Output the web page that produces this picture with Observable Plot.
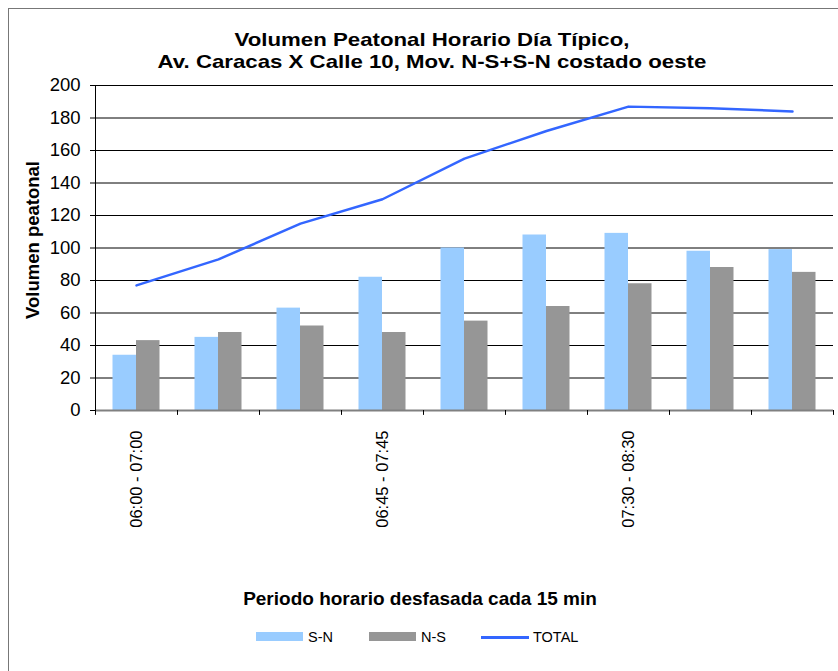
<!DOCTYPE html>
<html><head><meta charset="utf-8">
<script src="https://cdn.jsdelivr.net/npm/d3@7"></script>
<script src="https://cdn.jsdelivr.net/npm/@observablehq/plot@0.6"></script>
<style>
body{margin:0;background:#fff;font-family:"Liberation Sans",Arial,sans-serif;color:#000;}
#wrap{position:relative;width:838px;height:671px;overflow:hidden;background:#fff;}
#frame{position:absolute;left:8px;top:8px;width:900px;height:700px;border-left:1px solid #777;border-top:1px solid #777;}
.title{position:absolute;left:0;width:864px;text-align:center;font-weight:bold;font-size:19px;line-height:22px;white-space:nowrap;transform:scaleX(1.17);transform-origin:432px 50%;}
#chart{position:absolute;left:0;top:70px;}
#ytitle{position:absolute;left:33px;top:240px;transform:translate(-50%,-50%) rotate(-90deg);font-weight:bold;font-size:18.5px;white-space:nowrap;}
#xtitle{position:absolute;left:0;width:840px;top:588px;text-align:center;font-weight:bold;font-size:19px;white-space:nowrap;}
#legend{position:absolute;left:0;top:627px;width:838px;height:20px;}
.li{position:absolute;top:0;height:20px;font-size:14.5px;line-height:20px;}
.sw{position:absolute;top:5px;height:9px;width:47px;}
.ln{position:absolute;top:9px;height:2.5px;width:48px;background:#3366FF;}
</style></head>
<body>
<div id="wrap">
  <div id="frame"></div>
  <div class="title" style="top:29px">Volumen Peatonal Horario Día Típico,</div>
  <div class="title" style="top:51px">Av. Caracas X Calle 10, Mov. N-S+S-N costado oeste</div>
  <div id="chart"></div>
  <div id="ytitle">Volumen peatonal</div>
  <div id="xtitle">Periodo horario desfasada cada 15 min</div>
  <div id="legend"></div>
</div>
<script>
const periods = ["06:00 - 07:00","06:15 - 07:15","06:30 - 07:30","06:45 - 07:45","07:00 - 08:00","07:15 - 08:15","07:30 - 08:30","07:45 - 08:45","08:00 - 09:00"];
const snValues = [34, 45, 63, 82, 100, 108, 109, 98, 99];
const nsValues = [43, 48, 52, 48, 55, 64, 78, 88, 85];
const totalValues = [77, 93, 115, 130, 155, 172, 187, 186, 184];
const yTicks = [0, 20, 40, 60, 80, 100, 120, 140, 160, 180, 200];
const shownLabels = [periods[0], periods[3], periods[6]];
const seriesNames = ["S-N", "N-S", "TOTAL"];
const seriesColors = ["#99CCFF", "#969696", "#3366FF"];

const rows = periods.map((p, i) => ({period: p, sn: snValues[i], ns: nsValues[i], total: totalValues[i]}));

const W = 838, H = 480, ML = 95, MR = 5, MT = 15, MB = 140;
const bw = (W - ML - MR) / periods.length;

const chart = Plot.plot({
  width: W, height: H, marginLeft: ML, marginRight: MR, marginTop: MT, marginBottom: MB,
  style: {fontFamily: '"Liberation Sans", Arial, sans-serif', background: "transparent", overflow: "visible", color: "#000"},
  x: {type: "band", domain: periods, padding: 0, axis: null},
  y: {domain: [0, 200], axis: null},
  marks: [
    Plot.gridY({ticks: yTicks, stroke: "#000", strokeOpacity: 1}),
    Plot.barY(rows, {x: "period", y: "sn", fill: seriesColors[0], insetLeft: 17.5, insetRight: 41}),
    Plot.barY(rows, {x: "period", y: "ns", fill: seriesColors[1], insetLeft: 41, insetRight: 17.5}),
    Plot.lineY(rows, {x: "period", y: "total", stroke: seriesColors[2], strokeWidth: 2.5}),
    Plot.ruleY([0], {stroke: "#808080", strokeWidth: 2}),
    Plot.ruleX([periods[0]], {y1: 0, y2: 200, dx: -bw / 2, stroke: "#000"}),
    Plot.ruleX(periods, {y1: 0, y2: -3, dx: -bw / 2, stroke: "#000"}),
    Plot.ruleX([periods[periods.length - 1]], {y1: 0, y2: -3, dx: bw / 2, stroke: "#000"}),
    Plot.axisY({ticks: yTicks, tickSize: 5, tickPadding: 10, fontSize: 18.5, label: null}),
    Plot.axisX({ticks: shownLabels, tickSize: 0, tickPadding: 20, tickRotate: -90, fontSize: 16.5, label: null})
  ]
});
document.getElementById("chart").appendChild(chart);

const legend = document.getElementById("legend");
const legendX = [256, 369, 481];
seriesNames.forEach((name, i) => {
  const sw = document.createElement("div");
  if (i < 2) { sw.className = "sw"; sw.style.background = seriesColors[i]; }
  else { sw.className = "ln"; }
  sw.style.left = legendX[i] + "px";
  legend.appendChild(sw);
  const t = document.createElement("div");
  t.className = "li";
  t.style.left = (legendX[i] + 52) + "px";
  t.textContent = name;
  legend.appendChild(t);
});
</script>
</body></html>
